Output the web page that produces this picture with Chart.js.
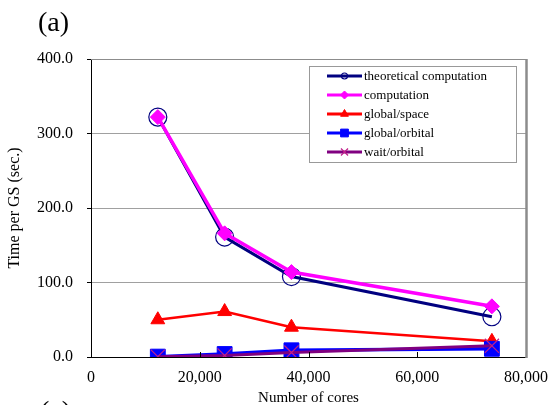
<!DOCTYPE html>
<html>
<head>
<meta charset="utf-8">
<script src="https://cdn.jsdelivr.net/npm/chart.js@4.4.0/dist/chart.umd.min.js"></script>
<style>
html,body{margin:0;padding:0;background:#fff;}
#wrap{position:relative;width:549px;height:405px;overflow:hidden;}
#box{position:absolute;left:0;top:0;width:549px;height:430px;}
</style>
</head>
<body>
<div id="wrap"><div id="box"><canvas id="c"></canvas></div></div>
<script>
let cores = [12288, 24576, 36864, 73728]

let theoretical = [322, 161, 108, 54]
let computation = [322, 166, 114, 68]
let globalSpace = [50, 61, 40, 21]
let globalOrbital = [0.5, 4, 9, 11]
let waitOrbital = [0.5, 2, 6, 15]

let seriesNames = ["theoretical computation","computation","global/space","global/orbital","wait/orbital"]

let serif = "'Liberation Serif','Times New Roman',serif"

function pts(vals){
return vals.map((v,i)=>({x:cores[i],y:v}))
}

// legend, frame lines, inside x ticks and panel labels
let extras = {
id:"extras",
afterDraw(chart){
let ctx = chart.ctx
let a = chart.chartArea
let xs = chart.scales.x
ctx.save()

// top and right frame
ctx.strokeStyle = "#8c8c8c"
ctx.lineWidth = 1
ctx.beginPath()
ctx.moveTo(a.left, a.top+0.5)
ctx.lineTo(a.right, a.top+0.5)
ctx.stroke()
ctx.lineWidth = 2.5
ctx.beginPath()
ctx.moveTo(a.right+0.5, a.top)
ctx.lineTo(a.right+0.5, a.bottom+1)
ctx.stroke()

// inside ticks on x axis
ctx.strokeStyle = "#000"
ctx.lineWidth = 1
xs.ticks.forEach(t=>{
let px = Math.round(xs.getPixelForValue(t.value))+0.5
if(t.value==0 || t.value==80000) return
ctx.beginPath()
ctx.moveTo(px, a.bottom)
ctx.lineTo(px, a.bottom-5)
ctx.stroke()
})

// legend
let lx = 309, ly = 66, lw = 207, lh = 96
ctx.fillStyle = "#fff"
ctx.fillRect(lx, ly, lw, lh)
ctx.strokeStyle = "#999"
ctx.lineWidth = 1
ctx.strokeRect(lx+0.5, ly+0.5, lw, lh)
ctx.font = "13px " + serif
ctx.textBaseline = "middle"
chart.data.datasets.forEach((ds,i)=>{
let y = 76 + i*19
ctx.strokeStyle = ds.borderColor
ctx.lineWidth = 3
ctx.beginPath()
ctx.moveTo(327, y)
ctx.lineTo(362, y)
ctx.stroke()
ctx.fillStyle = ds.pointBackgroundColor
ctx.strokeStyle = ds.pointBorderColor
ctx.lineWidth = ds.pointBorderWidth
Chart.helpers.drawPoint(ctx,{pointStyle:ds.pointStyle,radius:ds.legendRadius,rotation:0,borderWidth:ds.pointBorderWidth},344.5,y)
ctx.fillStyle = "#000"
ctx.fillText(seriesNames[i], 364, y+1)
})

// panel labels
ctx.fillStyle = "#000"
ctx.textBaseline = "alphabetic"
ctx.font = "28px " + serif
ctx.fillText("(a)", 38, 31)
ctx.fillText("(c)", 40, 420)
ctx.restore()
}
}

new Chart(document.getElementById("c"),{

type:"line",

data:{

datasets:[

{
label:seriesNames[0],
data:pts(theoretical),
borderColor:"#000080",
borderWidth:3,
pointStyle:"circle",
pointRadius:9,
pointBackgroundColor:"rgba(0,0,0,0)",
pointBorderColor:"#000080",
pointBorderWidth:1.2,
legendRadius:3,
order:5
},

{
label:seriesNames[1],
data:pts(computation),
borderColor:"#ff00ff",
borderWidth:3.5,
pointStyle:"rectRot",
pointRadius:7.5,
pointBackgroundColor:"#ff00ff",
pointBorderColor:"#ff00ff",
pointBorderWidth:1,
legendRadius:4,
order:4
},

{
label:seriesNames[2],
data:pts(globalSpace),
borderColor:"#ff0000",
borderWidth:2.5,
pointStyle:"triangle",
pointRadius:8,
pointBackgroundColor:"#ff0000",
pointBorderColor:"#ff0000",
pointBorderWidth:1,
legendRadius:4.5,
order:3
},

{
label:seriesNames[3],
data:pts(globalOrbital),
borderColor:"#0000ff",
borderWidth:3.5,
pointStyle:"rect",
pointRadius:10.5,
pointBackgroundColor:"#0000ff",
pointBorderColor:"#0000ff",
pointBorderWidth:1,
legendRadius:5.5,
order:2
},

{
label:seriesNames[4],
data:pts(waitOrbital),
borderColor:"#800080",
borderWidth:3,
pointStyle:"crossRot",
pointRadius:10,
pointBackgroundColor:"#c0208a",
pointBorderColor:"#c0208a",
pointBorderWidth:1.2,
legendRadius:5,
order:1
}

]

},

options:{

responsive:true,
maintainAspectRatio:false,
animation:false,
layout:{padding:{top:59,right:23,left:0,bottom:0}},

plugins:{
legend:{display:false},
tooltip:{enabled:false}
},

scales:{

x:{
type:"linear",
min:0,
max:80000,
afterFit(s){ s.height = 73; s.paddingRight = 0; s.paddingLeft = 0 },
ticks:{
stepSize:20000,
color:"#000",
font:{family:serif,size:16},
padding:3,
callback:v=>v.toLocaleString("en-US")
},
grid:{display:false},
border:{color:"#000",width:1},
title:{
display:true,
text:"Number of cores",
color:"#000",
font:{family:serif,size:15},
padding:{top:0,bottom:23}
}
},

y:{
min:0,
max:400,
afterFit(s){ s.width = 91; s.paddingTop = 0; s.paddingBottom = 0 },
ticks:{
stepSize:100,
color:"#000",
font:{family:serif,size:16},
padding:14,
callback:v=>v.toFixed(1)
},
grid:{
color:"#a0a0a0",
tickColor:"#000",
tickLength:4
},
border:{color:"#000",width:1},
title:{
display:true,
text:"Time per GS (sec.)",
color:"#000",
font:{family:serif,size:16},
padding:{top:5,bottom:0}
}
}

}

},

plugins:[extras]

})
</script>
</body>
</html>
